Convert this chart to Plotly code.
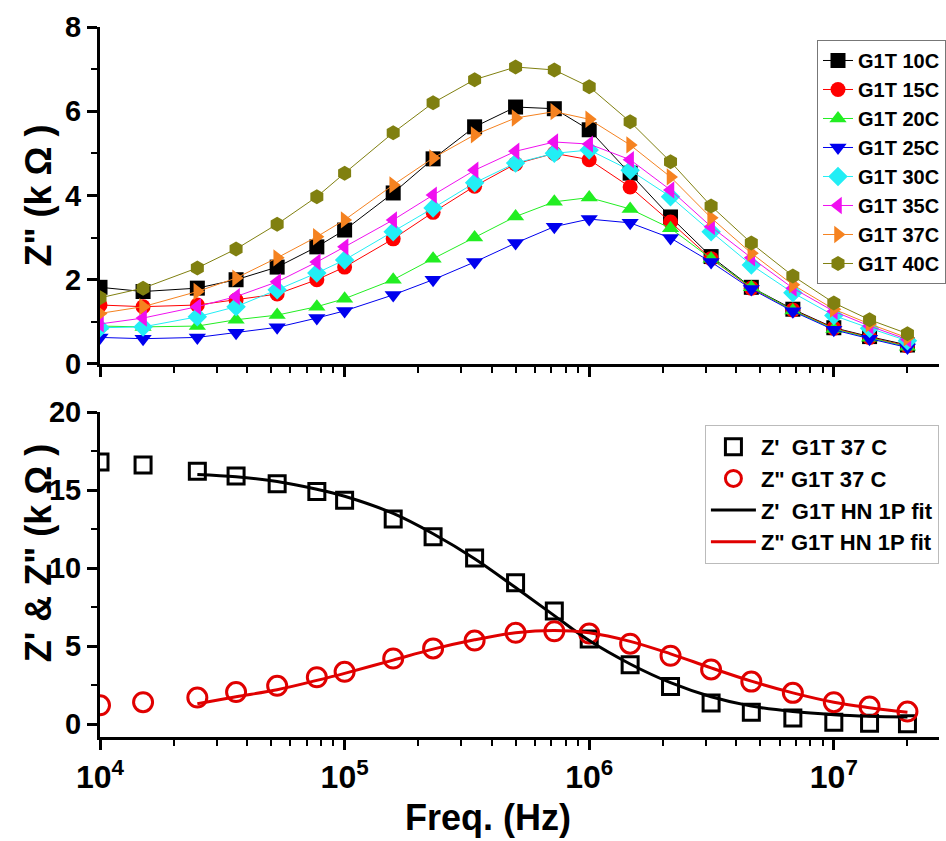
import plotly.graph_objects as go

# ---------------- data ----------------
freq = [1e4, 1.5e4, 2.5e4, 3.6e4, 5.3e4, 7.7e4, 1e5, 1.58e5, 2.3e5, 3.4e5, 5e5,
        7.2e5, 1e6, 1.47e6, 2.15e6, 3.15e6, 4.6e6, 6.8e6, 1e7, 1.4e7, 2e7]

names_top = ["G1T 10C", "G1T 15C", "G1T 20C", "G1T 25C", "G1T 30C", "G1T 35C", "G1T 37C", "G1T 40C"]

z10 = [1.82, 1.72, 1.80, 2.00, 2.30, 2.78, 3.18, 4.06, 4.87, 5.63, 6.10, 6.06, 5.56, 4.53, 3.49, 2.55, 1.82, 1.30, 0.86, 0.65, 0.45]
z15 = [1.40, 1.36, 1.40, 1.52, 1.66, 2.00, 2.30, 2.97, 3.60, 4.22, 4.75, 5.00, 4.85, 4.20, 3.37, 2.50, 1.80, 1.28, 0.85, 0.63, 0.43]
z20 = [0.90, 0.88, 0.90, 1.05, 1.16, 1.36, 1.55, 2.00, 2.50, 3.00, 3.50, 3.85, 3.95, 3.68, 3.22, 2.50, 1.82, 1.27, 0.83, 0.62, 0.41]
z25 = [0.63, 0.60, 0.63, 0.74, 0.87, 1.09, 1.26, 1.64, 2.00, 2.42, 2.87, 3.26, 3.44, 3.35, 2.99, 2.42, 1.78, 1.25, 0.81, 0.60, 0.39]
z30 = [0.86, 0.88, 1.12, 1.36, 1.76, 2.16, 2.47, 3.14, 3.70, 4.30, 4.77, 5.00, 5.08, 4.60, 3.97, 3.14, 2.35, 1.69, 1.15, 0.85, 0.55]
z35 = [0.95, 1.09, 1.36, 1.60, 1.95, 2.42, 2.78, 3.42, 4.01, 4.60, 5.05, 5.27, 5.22, 4.85, 4.13, 3.26, 2.52, 1.80, 1.25, 0.90, 0.58]
z37 = [1.20, 1.36, 1.72, 2.04, 2.52, 3.02, 3.42, 4.25, 4.89, 5.44, 5.84, 5.99, 5.81, 5.20, 4.44, 3.47, 2.63, 1.88, 1.30, 0.95, 0.62]
z40 = [1.57, 1.80, 2.28, 2.73, 3.32, 3.97, 4.53, 5.49, 6.20, 6.75, 7.05, 6.98, 6.58, 5.75, 4.80, 3.75, 2.87, 2.09, 1.45, 1.05, 0.72]

zre_37 = [16.8, 16.6, 16.2, 15.9, 15.4, 14.9, 14.35, 13.15, 12.0, 10.65, 9.05, 7.25, 5.45, 3.8, 2.4, 1.35, 0.75, 0.38, 0.12, 0.05, 0.02]
zim_37 = [1.2, 1.4, 1.7, 2.05, 2.45, 3.0, 3.35, 4.2, 4.85, 5.35, 5.85, 5.95, 5.8, 5.15, 4.38, 3.5, 2.72, 2.0, 1.4, 1.12, 0.8]

fit_freq = freq[2:]
fit_re = [16.0, 15.85, 15.55, 15.05, 14.6, 13.5, 12.2, 10.6, 8.75, 6.95, 5.35, 3.85, 2.65, 1.75, 1.15, 0.8, 0.6, 0.5, 0.45]
fit_im = [1.3, 1.75, 2.2, 2.8, 3.25, 4.1, 4.8, 5.4, 5.85, 6.0, 5.85, 5.3, 4.5, 3.6, 2.75, 2.0, 1.4, 1.05, 0.75]

legend_bottom = ["Z'\u00a0\u00a0G1T 37 C", "Z\" G1T 37 C", "Z'\u00a0\u00a0G1T HN 1P fit", "Z\" G1T HN 1P fit"]

title_top_y = "Z\" (k \u03a9 )"
title_bottom_y = "Z' & Z\" (k \u03a9 )"
title_x = "Freq. (Hz)"

x_tickvals = [1e4, 1e5, 1e6, 1e7]
x_ticktext = ["10<sup>4</sup>", "10<sup>5</sup>", "10<sup>6</sup>", "10<sup>7</sup>"]
x_minor = [m * 10 ** e for e in range(4, 8) for m in range(2, 10)]

# ---------------- styles ----------------
top_series = [z10, z15, z20, z25, z30, z35, z37, z40]
colors = ["#000000", "#FF0000", "#22EE22", "#0000EE", "#22EEF5", "#F010F0", "#F58220", "#808010"]
symbols = ["square", "circle", "triangle-up", "triangle-down", "diamond", "triangle-left", "triangle-right", "hexagon"]

FONT = "Liberation Sans, Arial, sans-serif"

fig = go.Figure()

for name, vals, c, s in zip(names_top, top_series, colors, symbols):
    fig.add_trace(go.Scatter(
        x=freq, y=vals, name=name, mode="lines+markers",
        line=dict(color=c, width=1),
        marker=dict(symbol=s, size=15, color=c),
        xaxis="x", yaxis="y", legend="legend",
    ))

fig.add_trace(go.Scatter(
    x=freq, y=zre_37, name=legend_bottom[0], mode="markers",
    marker=dict(symbol="square-open", size=16, color="black", line=dict(width=3, color="black")),
    xaxis="x2", yaxis="y2", legend="legend2",
))
fig.add_trace(go.Scatter(
    x=freq, y=zim_37, name=legend_bottom[1], mode="markers",
    marker=dict(symbol="circle-open", size=19, color="#E00000", line=dict(width=3, color="#E00000")),
    xaxis="x2", yaxis="y2", legend="legend2",
))
fig.add_trace(go.Scatter(
    x=fit_freq, y=fit_re, name=legend_bottom[2], mode="lines",
    line=dict(color="black", width=3, shape="spline"),
    xaxis="x2", yaxis="y2", legend="legend2",
))
fig.add_trace(go.Scatter(
    x=fit_freq, y=fit_im, name=legend_bottom[3], mode="lines",
    line=dict(color="#E00000", width=3, shape="spline"),
    xaxis="x2", yaxis="y2", legend="legend2",
))

xr = [4, 7.43]

common_x = dict(type="log", range=xr, showline=True, linewidth=3, linecolor="black",
                showgrid=False, zeroline=False, tickvals=x_tickvals, ticktext=x_ticktext,
                ticks="outside", ticklen=10, tickwidth=3, tickcolor="black",
                minor=dict(tickvals=x_minor, ticks="outside", ticklen=6, tickwidth=2, tickcolor="black"))
common_y = dict(showline=True, linewidth=3, linecolor="black", showgrid=False, zeroline=False,
                ticks="outside", ticklen=10, tickwidth=3, tickcolor="black",
                tickfont=dict(size=29, family=FONT, color="black", weight="bold"))
top_x = dict(type="log", range=xr, showline=True, linewidth=3, linecolor="black",
             showgrid=False, zeroline=False, tickvals=x_tickvals, showticklabels=False,
             ticks="inside", ticklen=10, tickwidth=3, tickcolor="black", side="top",
             minor=dict(tickvals=x_minor, ticks="inside", ticklen=6, tickwidth=2, tickcolor="black"))

title_font = dict(size=36, family=FONT, color="black", weight="bold")

fig.update_layout(
    width=946, height=841,
    margin=dict(l=100, r=0, t=27, b=104),
    paper_bgcolor="white", plot_bgcolor="white",
    font=dict(family=FONT, color="black", weight="bold"),
    xaxis=dict(common_x, domain=[0, 1], anchor="y", showticklabels=False),
    yaxis=dict(common_y, domain=[0.5254, 1], anchor="x", range=[0, 8],
               tickvals=[0, 2, 4, 6, 8],
               minor=dict(tickvals=[1, 3, 5, 7], ticks="outside", ticklen=6, tickwidth=2, tickcolor="black")),
    xaxis2=dict(common_x, domain=[0, 1], anchor="y2",
                tickfont=dict(size=32, family=FONT, color="black", weight="bold")),
    yaxis2=dict(common_y, domain=[0, 0.4577], anchor="x2", range=[-0.83, 20],
                tickvals=[0, 5, 10, 15, 20],
                minor=dict(tickvals=[2.5, 7.5, 12.5, 17.5], ticks="outside", ticklen=6, tickwidth=2, tickcolor="black")),
    xaxis3=dict(top_x, anchor="y", overlaying="x"),
    xaxis4=dict(top_x, anchor="y2", overlaying="x2"),
    legend=dict(x=0.8546, y=0.9817, xanchor="left", yanchor="top",
                bgcolor="white", bordercolor="#777777", borderwidth=1,
                font=dict(size=20, family=FONT, color="black", weight="bold"),
                tracegroupgap=0, itemwidth=30),
    legend2=dict(x=0.721, y=0.4394, xanchor="left", yanchor="top",
                 bgcolor="white", bordercolor="#BBBBBB", borderwidth=1,
                 font=dict(size=22, family=FONT, color="black", weight="bold"),
                 tracegroupgap=0, itemwidth=45),
    showlegend=True,
    annotations=[
        dict(text=title_top_y, xref="paper", yref="paper", x=-0.0733, y=0.762,
             xanchor="center", yanchor="middle", textangle=-90, showarrow=False, font=title_font),
        dict(text=title_bottom_y, xref="paper", yref="paper", x=-0.0733, y=0.258,
             xanchor="center", yanchor="middle", textangle=-90, showarrow=False, font=title_font),
        dict(text=title_x, xref="paper", yref="paper", x=0.463, y=-0.1127,
             xanchor="center", yanchor="middle", showarrow=False, font=title_font),
    ],
)

fig.write_html("out.html")
